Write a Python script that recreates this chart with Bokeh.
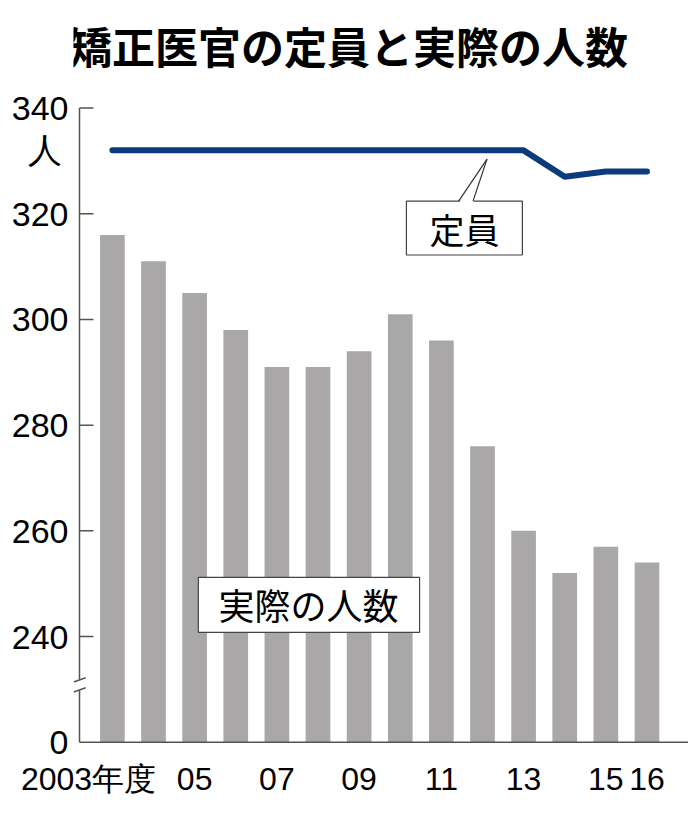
from bokeh.plotting import figure
from bokeh.models import (ColumnDataSource, FixedTicker, Label, BoxAnnotation,
                          PolyAnnotation, Arrow, Range1d)
from bokeh.embed import file_html
from bokeh.resources import INLINE

# data
years = list(range(2003, 2017))
actual = [316, 311, 305, 298, 291, 291, 294, 301, 296, 276, 260, 252, 257, 254]
capacity = [332, 332, 332, 332, 332, 332, 332, 332, 332, 332, 332, 327, 328, 328]

x_ticks = [-0.58, 2, 4, 6, 8, 10, 12, 13]
x_tick_labels = ["2003年度", "05", "07", "09", "11", "13", "15", "16"]
# y axis is broken: the bottom tick stands for 0
y_ticks = [220, 240, 260, 280, 300, 320, 340]
y_tick_labels = ["0", "240", "260", "280", "300", "320", "340"]
unit_pos, unit_label = 332, "人\u2009"
title = "矯正医官の定員と実際の人数"

NUM_FONT = "Liberation Sans"
JP_FONT = "Noto Sans CJK JP"
AXIS_COLOR = "#555555"

X0, X1 = -0.946, 14.01      # plot range
AX = -0.8                   # where the y axis spine sits
Y0, Y1 = 219, 360.36        # frame runs up to the top so the title fits inside

src = ColumnDataSource(data=dict(x=list(range(len(years))), actual=actual, capacity=capacity))

p = figure(width=688, height=805, x_range=Range1d(X0, X1), y_range=Range1d(Y0, Y1),
           title=None, toolbar_location=None, output_backend="svg",
           min_border_left=73, min_border_right=0, min_border_top=0, min_border_bottom=58)
p.outline_line_color = None
p.grid.visible = False

p.vbar(x="x", top="actual", bottom=y_ticks[0], width=0.6, source=src,
       fill_color="#a9a7a8", line_color=None)
p.line("x", "capacity", source=src, line_width=6, line_color="#0c3a7c",
       line_cap="round", line_join="round")

# hand-drawn axis lines so the y axis can show its break
brk_lo, brk_hi = 229.9, 231.8
p.segment(x0=[AX, AX, AX], y0=[y_ticks[0], brk_hi, y_ticks[0]],
          x1=[AX, AX, X1], y1=[brk_lo, y_ticks[-1], y_ticks[0]],
          line_color=AXIS_COLOR, line_width=1.5)
tick_len = 0.34
p.segment(x0=[AX] * (len(y_ticks) - 1), y0=y_ticks[1:],
          x1=[AX + tick_len] * (len(y_ticks) - 1), y1=y_ticks[1:],
          line_color=AXIS_COLOR, line_width=1.5)
p.segment(x0=[-0.94, -0.94], y0=[231.4, 229.5], x1=[-0.65, -0.65], y1=[232.2, 230.3],
          line_color=AXIS_COLOR, line_width=1.5)

# axes: labels only
ylab = dict(zip(y_ticks, y_tick_labels))
ylab[unit_pos] = unit_label
p.yaxis.ticker = FixedTicker(ticks=y_ticks + [unit_pos])
p.yaxis.major_label_overrides = ylab
p.yaxis.major_label_standoff = 5
p.yaxis.major_label_text_font_size = "34px"

p.xaxis.ticker = FixedTicker(ticks=x_ticks)
p.xaxis.major_label_overrides = dict(zip(x_ticks, x_tick_labels))
p.xaxis.major_label_standoff = 13
p.xaxis.major_label_text_font_size = "32px"

for ax in (p.xaxis, p.yaxis):
    ax.axis_line_color = None
    ax.major_tick_line_color = None
    ax.minor_tick_line_color = None
    ax.major_tick_in = 0
    ax.major_tick_out = 0
    ax.major_label_text_font = NUM_FONT
    ax.major_label_text_color = "black"

# title
p.add_layout(Label(x=5.74, y=352.0, text=title, text_font=JP_FONT, text_font_size="43px",
                   text_font_style="bold", text_color="black",
                   text_align="center", text_baseline="middle"))

# callout: 定員
p.add_layout(BoxAnnotation(left=7.15, right=9.97, top=322.4, bottom=312.2,
                           fill_color="white", fill_alpha=1,
                           line_color="#444444", line_alpha=1, line_width=1.2))
p.add_layout(PolyAnnotation(xs=[8.42, 9.11, 8.77], ys=[322.0, 330.35, 322.0],
                            fill_color="white", fill_alpha=1, line_color=None))
for xb in (8.42, 8.77):
    p.add_layout(Arrow(x_start=xb, y_start=322.4, x_end=9.11, y_end=330.35, end=None,
                       line_color="#333333", line_width=1.2))
p.add_layout(Label(x=8.56, y=317.3, text="定員", text_font=JP_FONT, text_font_size="35px",
                   text_color="black", text_align="center", text_baseline="middle"))

# callout: 実際の人数
p.add_layout(BoxAnnotation(left=2.09, right=7.47, top=251.2, bottom=240.8,
                           fill_color="white", fill_alpha=1,
                           line_color="#444444", line_alpha=1, line_width=1.2))
p.add_layout(Label(x=4.77, y=246.1, text="実際の人数", text_font=JP_FONT, text_font_size="36px",
                   text_color="black", text_align="center", text_baseline="middle"))

open("out.html", "w").write(file_html(p, INLINE))
